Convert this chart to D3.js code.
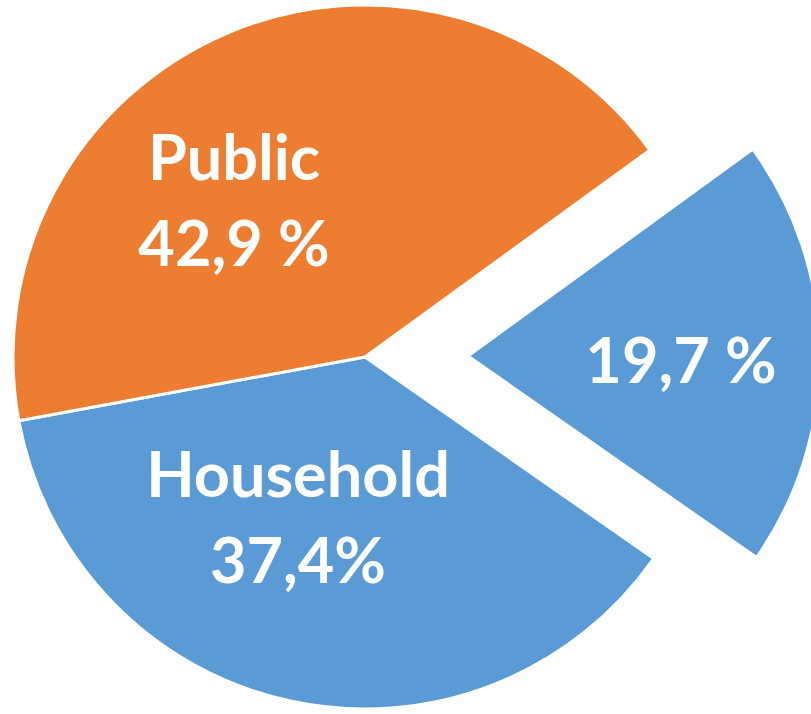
<!DOCTYPE html>
<html>
<head>
<meta charset="utf-8">
<script src="https://cdn.jsdelivr.net/npm/d3@7"></script>
<style>
  html, body { margin: 0; padding: 0; background: #fff; }
  svg { display: block; }
  .label { font-family: Lato, "Open Sans", sans-serif; font-weight: 700; fill: #fff; }
</style>
</head>
<body>
<svg id="chart" width="811" height="714"></svg>
<script>
// data, in drawing order (clockwise from the upper-right cut)
const categories = ['Other', 'Household', 'Public']
const shares = [19.7, 37.4, 42.9]
const valueLabels = ['19,7 %', '37,4%', '42,9 %']
const nameLabels = ['', 'Household', 'Public']
const exploded = [true, false, false]

const width = 811
const height = 714
const cx = 365
const cy = 357
const radius = 352
const explodeBy = 103

const color = d3.scaleOrdinal()
  .domain(categories)
  .range(['#5B9BD5', '#5B9BD5', '#ED7D31'])

const deg = Math.PI / 180
const pie = d3.pie()
  .sort(null)
  .value(d => d.value)
  .startAngle(54 * deg)
  .endAngle(54 * deg + 2 * Math.PI)

const arc = d3.arc().innerRadius(0).outerRadius(radius)

const rows = categories.map((c, i) => ({
  key: c, value: shares[i], name: nameLabels[i], pct: valueLabels[i], explode: exploded[i]
}))
const arcs = pie(rows)

const svg = d3.select('#chart')
const g = svg.append('g').attr('transform', `translate(${cx},${cy})`)

function offset(d) {
  if (!d.data.explode) return [0, 0]
  const mid = (d.startAngle + d.endAngle) / 2
  return [Math.sin(mid) * explodeBy, -Math.cos(mid) * explodeBy]
}

g.selectAll('path.slice')
  .data(arcs)
  .join('path')
  .attr('class', 'slice')
  .attr('d', arc)
  .attr('fill', d => color(d.data.key))
  .attr('stroke', '#fff')
  .attr('stroke-width', 3)
  .attr('stroke-linejoin', 'round')
  .attr('transform', d => `translate(${offset(d)})`)

// label anchors relative to pie centre (layout, not data)
const labelPos = {
  Other: [316, 26],
  Household: [-67, 140],
  Public: [-131, -177]
}
const lineGap = 86

const labels = g.selectAll('text.label')
  .data(arcs)
  .join('text')
  .attr('class', 'label')
  .attr('text-anchor', 'middle')
  .attr('font-size', 63)
  .attr('x', d => labelPos[d.data.key][0])
  .attr('y', d => labelPos[d.data.key][1])

labels.each(function(d) {
  const t = d3.select(this)
  if (d.data.name) {
    t.append('tspan').attr('x', labelPos[d.data.key][0]).text(d.data.name)
    t.append('tspan').attr('x', labelPos[d.data.key][0]).attr('dy', lineGap).text(d.data.pct)
  } else {
    t.append('tspan').attr('x', labelPos[d.data.key][0]).text(d.data.pct)
  }
})
</script>
</body>
</html>
